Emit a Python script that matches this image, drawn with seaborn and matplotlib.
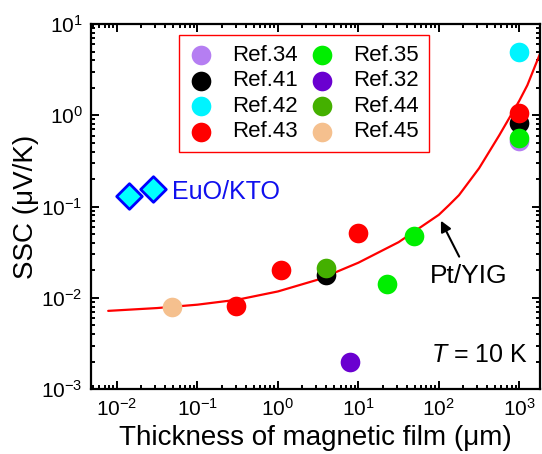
import numpy as np
import pandas as pd
import seaborn as sns
import matplotlib.pyplot as plt
from matplotlib.ticker import LogLocator, LogFormatterSciNotation, NullFormatter

# data (thickness in um, SSC in uV/K)
ref_names = ["Ref.34", "Ref.41", "Ref.42", "Ref.43", "Ref.35", "Ref.32", "Ref.44", "Ref.45"]
ref_colors = ["#b57ef2", "#000000", "#00f4ff", "#ff0000", "#00ee00", "#6a00d0", "#44b000", "#f5c08e"]
ref34_x = [1000]
ref34_y = [0.52]
ref41_x = [4, 1000]
ref41_y = [0.018, 0.83]
ref42_x = [1000]
ref42_y = [5.0]
ref43_x = [0.3, 1.1, 10, 1000]
ref43_y = [0.0082, 0.020, 0.051, 1.05]
ref35_x = [22.6, 49, 1000]
ref35_y = [0.014, 0.048, 0.56]
ref32_x = [7.8]
ref32_y = [0.002]
ref44_x = [4]
ref44_y = [0.021]
ref45_x = [0.048]
ref45_y = [0.008]

euo_x = [0.014, 0.028]
euo_y = [0.132, 0.154]

# Pt/YIG guide curve (log10 values)
curve_logx = [-2.11, -1.5, -1.0, -0.5, 0.0, 0.5, 1.0, 1.5, 2.0, 2.125, 2.25, 2.5, 2.75,
              3.0, 3.1, 3.2, 3.26]
curve_logy = [-2.143, -2.112, -2.075, -2.02, -1.93, -1.80, -1.615, -1.39, -1.09, -0.985,
              -0.875, -0.58, -0.22, 0.16, 0.33, 0.55, 0.68]

sns.set_theme(style="ticks")
plt.rcParams["font.family"] = ["Liberation Sans", "DejaVu Sans"]
plt.rcParams["mathtext.fontset"] = "custom"
plt.rcParams["mathtext.rm"] = "Liberation Sans"
plt.rcParams["mathtext.it"] = "Liberation Sans:italic"
plt.rcParams["text.color"] = "black"
plt.rcParams["axes.labelcolor"] = "black"
plt.rcParams["xtick.color"] = "black"
plt.rcParams["ytick.color"] = "black"

fig, ax = plt.subplots(figsize=(5.42, 4.54), dpi=100)
fig.subplots_adjust(left=0.168, right=0.996, top=0.947, bottom=0.143)

curve = pd.DataFrame({"x": np.power(10.0, curve_logx), "y": np.power(10.0, curve_logy)})
sns.lineplot(data=curve, x="x", y="y", color="#ff0000", lw=1.6, sort=False, ax=ax, zorder=2)

all_x = [ref34_x, ref41_x, ref42_x, ref43_x, ref35_x, ref32_x, ref44_x, ref45_x]
all_y = [ref34_y, ref41_y, ref42_y, ref43_y, ref35_y, ref32_y, ref44_y, ref45_y]
for i, name in enumerate(ref_names):
    sns.scatterplot(x=all_x[i], y=all_y[i], color=ref_colors[i], s=200, linewidth=0,
                    label=name, ax=ax, zorder=3 + i)

sns.scatterplot(x=euo_x, y=euo_y, marker="D", color="#00ffff", edgecolor="#0000ff",
                linewidth=2, s=170, ax=ax, zorder=12)
ax.text(0.048, 0.143, "EuO/KTO", color="#1010ee", fontsize=18, ha="left", va="center")

ax.annotate("Pt/YIG", xy=(106, 0.070), xytext=(236, 0.0175), fontsize=19,
            ha="center", va="center",
            arrowprops=dict(arrowstyle="-|>", color="black", lw=1.5, shrinkA=3, shrinkB=0,
                            mutation_scale=16))
ax.text(1276, 0.00237, "$\\it{T}$ = 10 K", fontsize=18, ha="right", va="center")

ax.set_xscale("log")
ax.set_yscale("log")
ax.set_xlim(10 ** -2.323, 10 ** 3.255)
ax.set_ylim(1e-3, 10)

ax.xaxis.set_major_locator(LogLocator(base=10, numticks=20))
ax.yaxis.set_major_locator(LogLocator(base=10, numticks=20))
ax.xaxis.set_minor_locator(LogLocator(base=10, subs=np.arange(2, 10), numticks=20))
ax.yaxis.set_minor_locator(LogLocator(base=10, subs=np.arange(2, 10), numticks=20))
ax.xaxis.set_major_formatter(LogFormatterSciNotation())
ax.yaxis.set_major_formatter(LogFormatterSciNotation())
ax.xaxis.set_minor_formatter(NullFormatter())
ax.yaxis.set_minor_formatter(NullFormatter())

for side in ["left", "right", "top", "bottom"]:
    ax.spines[side].set_visible(True)
    ax.spines[side].set_linewidth(1.6)
    ax.spines[side].set_color("black")
ax.tick_params(which="both", direction="in", top=True, right=True, color="black", width=1.4)
ax.tick_params(which="major", length=6, labelsize=15, pad=6)
ax.tick_params(which="minor", length=3)

ax.set_xlabel("Thickness of magnetic film (\u03bcm)", fontsize=20, labelpad=4)
ax.set_ylabel("SSC (\u03bcV/K)", fontsize=20, labelpad=2)

leg = ax.legend(ncol=2, loc="upper left", bbox_to_anchor=(0.197, 0.97), borderaxespad=0,
                fontsize=16, frameon=True, fancybox=False, handlelength=1.0,
                handletextpad=0.9, columnspacing=0.6, labelspacing=0.2, borderpad=0.45)
leg.get_frame().set_edgecolor("#ff0000")
leg.get_frame().set_linewidth(1.0)
leg.get_frame().set_alpha(1)

fig.savefig("out.png", dpi=100)
